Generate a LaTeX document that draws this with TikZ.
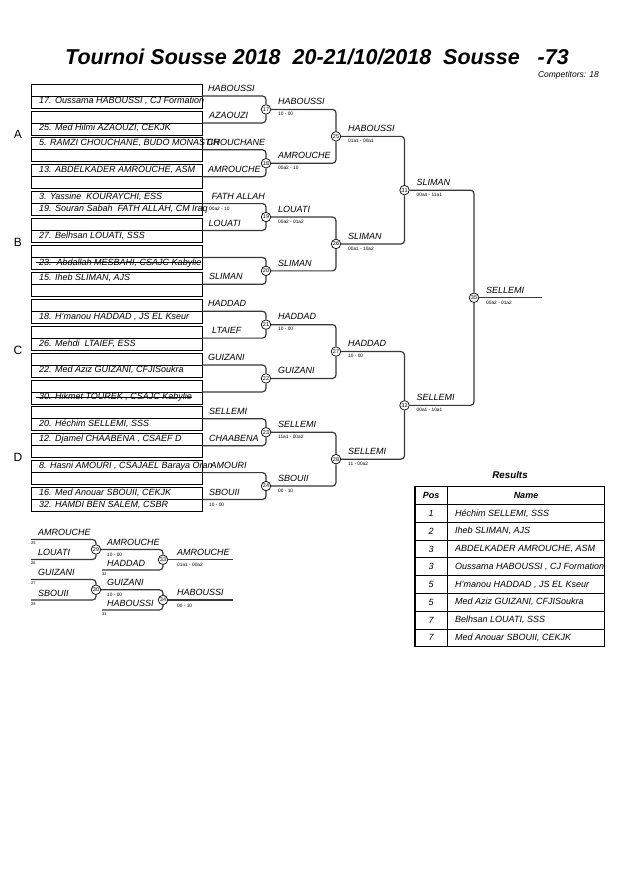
\documentclass[tikz,border=0pt]{standalone}
\usepackage{fontspec}
\setmainfont{Liberation Sans}
\begin{document}
\begin{tikzpicture}[x=1pt,y=-1pt,
  boxline/.style={draw=black, line width=0.7pt},
  entry/.style={font=\fontsize{9}{10}\selectfont\itshape, anchor=west, inner sep=0pt},
  lab/.style={font=\fontsize{9}{10}\selectfont\itshape, anchor=west, inner sep=0pt},
  score/.style={font=\fontsize{4.8}{5}\selectfont, anchor=west, inner sep=0pt},
  tiny/.style={font=\fontsize{4}{4.5}\selectfont, anchor=west, inner sep=0pt},
  circ/.style={circle, draw=black, fill=white, line width=0.7pt, minimum size=9.5pt, inner sep=0pt, font=\fontsize{5.5}{6}\selectfont},
  br/.style={draw=black!78, line width=1.2pt, rounded corners=3.5pt},
  sec/.style={font=\fontsize{12}{14}\selectfont, inner sep=0pt},
  strike/.style={draw=black, line width=0.6pt},
  tabtxt/.style={font=\fontsize{9}{10}\selectfont\itshape, inner sep=0pt},
  tabhead/.style={font=\fontsize{9}{10}\selectfont\bfseries\itshape, inner sep=0pt},
  outer/.style={draw=black, line width=1.4pt},
  inner/.style={draw=black, line width=0.7pt}
]
\useasboundingbox (0,0) rectangle (630,891);
\fill[white] (0,0) rectangle (630,891);

% title
\node[font=\fontsize{21.5}{24}\selectfont\bfseries\itshape, inner sep=0pt] (title) at (317,57)
  {Tournoi Sousse 2018~~20-21/10/2018~~Sousse~~~-73};
\node[font=\fontsize{8.5}{9}\selectfont\itshape, anchor=east, inner sep=0pt] (comp) at (599,75) {Competitors: 18};

% section letters
\node[sec] (secA) at (18,134.5) {A};
\node[sec] (secB) at (18,242) {B};
\node[sec] (secC) at (18,350) {C};
\node[sec] (secD) at (18,457.5) {D};

% boxes
\foreach \k in {0,...,15}{
  \pgfmathsetmacro\t{84+26.9*\k}
  \draw[boxline] (31,\t) rectangle (202,\t+24);
  \draw[boxline] (31,\t+12) -- (202,\t+12);
  \coordinate (m\k) at (202,\t+12);
}

% entries
\foreach \k/\r/\n/\txt in {
  0/17.3/e0/{17. Oussama HABOUSSI , CJ Formation},
  1/17.3/e1/{25. Med Hilmi AZAOUZI, CEKJK},
  2/5.5/e2/{5. RAMZI CHOUCHANE, BUDO MONASTIR},
  3/5.5/e3/{13. ABDELKADER AMROUCHE, ASM},
  4/5.5/e4a/{3. Yassine~~KOURAYCHI, ESS},
  4/17.3/e4b/{19. Souran Sabah~~FATH ALLAH, CM Iraq},
  5/17.3/e5/{27. Belhsan LOUATI, SSS},
  6/17.3/e6/{23.~~Abdallah MESBAHI, CSAJC Kabylie},
  7/5.5/e7/{15. Iheb SLIMAN, AJS},
  8/17.3/e8/{18. H'manou HADDAD , JS EL Kseur},
  9/17.3/e9/{26. Mehdi~~LTAIEF, ESS},
  10/17.3/e10/{22. Med Aziz GUIZANI, CFJISoukra},
  11/17.3/e11/{30. Hikmet TOUREK , CSAJC Kabylie},
  12/17.3/e12/{20. Héchim SELLEMI, SSS},
  13/5.5/e13/{12. Djamel CHAABENA , CSAEF D},
  14/5.5/e14/{8. Hasni AMOURI , CSAJAEL Baraya Oran},
  15/5.5/e15a/{16. Med Anouar SBOUII, CEKJK},
  15/17.3/e15b/{32. HAMDI BEN SALEM, CSBR}}{
  \node[entry] (\n) at (39,84+26.9*\k+\r) {\txt};
}
\draw[strike] ([xshift=-3pt]e6.mid west) -- (e6.mid east);
\draw[strike] ([xshift=-3pt]e11.mid west) -- (e11.mid east);

% first-round winner labels
\foreach \k/\x/\n/\txt in {0/208/w0/HABOUSSI, 1/209/w1/AZAOUZI, 2/207/w2/CHOUCHANE, 3/208/w3/AMROUCHE,
  4/211.5/w4/FATH ALLAH, 5/208.5/w5/LOUATI, 7/209/w7/SLIMAN, 8/208/w8/HADDAD, 9/212/w9/LTAIEF,
  10/208/w10/GUIZANI, 12/209/w12/SELLEMI, 13/209/w13/CHAABENA, 14/210.5/w14/AMOURI, 15/209/w15/SBOUII}{
  \node[lab] (\n) at (\x,88.5+26.9*\k) {\txt};
}
\node[score] (sc4) at (209,96+26.9*4+5.3) {00a2 - 10};
\node[score] (sc15) at (209,96+26.9*15+5.3) {10 - 00};

% circles
\foreach \c/\x/\y in {17/266/109.45, 18/266/163.25, 19/266/217.05, 20/266/270.85,
  21/266/324.65, 22/266/378.45, 23/266/432.25, 24/266/486.05,
  25/336/136.35, 26/336/243.95, 27/336/351.55, 28/336/459.15,
  31/404.5/190.15, 32/404.5/405.35, 35/474/297.75}{
  \node[circ] (c\c) at (\x,\y) {\c};
}
\coordinate (fin) at (542,297.75);

% brackets
\foreach \a/\b/\c in {0/1/17,2/3/18,4/5/19,6/7/20,8/9/21,10/11/22,12/13/23,14/15/24}{
  \draw[br] (m\a) -- (m\a -| c\c) -- (c\c.north);
  \draw[br] (m\b) -- (m\b -| c\c) -- (c\c.south);
}
\foreach \a/\b/\c in {17/18/25,19/20/26,21/22/27,23/24/28,25/26/31,27/28/32,31/32/35}{
  \draw[br] (c\a.east) -- (c\a.east -| c\c) -- (c\c.north);
  \draw[br] (c\b.east) -- (c\b.east -| c\c) -- (c\c.south);
}
\draw[br] (c35.east) -- (fin);

% winner labels and scores
\foreach \c/\n/\s in {17/HABOUSSI/{10 - 00}, 18/AMROUCHE/{00a2 - 10}, 19/LOUATI/{00a2 - 01a2},
  20/SLIMAN/{}, 21/HADDAD/{10 - 00}, 22/GUIZANI/{}, 23/SELLEMI/{11a1 - 00a2}, 24/SBOUII/{00 - 10},
  25/HABOUSSI/{01a1 - 00a1}, 26/SLIMAN/{00a1 - 10a2}, 27/HADDAD/{10 - 00}, 28/SELLEMI/{11 - 00a2},
  31/SLIMAN/{00a4 - 11a1}, 32/SELLEMI/{00a1 - 10a1}, 35/SELLEMI/{00a2 - 01a2}}{
  \node[lab] (n\c) at ([xshift=12pt,yshift=7.8pt]c\c.center) {\n};
  \node[score] (s\c) at ([xshift=12pt,yshift=-4.6pt]c\c.center) {\s};
}

% repechage
\coordinate (r1) at (31,539.5);
\coordinate (r2) at (31,559.5);
\coordinate (r3) at (31,579.5);
\coordinate (r4) at (31,600);
\coordinate (r5) at (102,570);
\coordinate (r6) at (102,610);
\node[circ] (c29) at (96,549.5) {29};
\node[circ] (c30) at (96,589.75) {30};
\node[circ] (c33) at (163,559.75) {33};
\node[circ] (c34) at (163,600) {34};
\coordinate (r7) at (233,559.75);
\coordinate (r8) at (233,600);
\draw[br] (r1) -- (r1 -| c29) -- (c29.north);
\draw[br] (r2) -- (r2 -| c29) -- (c29.south);
\draw[br] (r3) -- (r3 -| c30) -- (c30.north);
\draw[br] (r4) -- (r4 -| c30) -- (c30.south);
\draw[br] (c29.east) -- (c29.east -| c33) -- (c33.north);
\draw[br] (r5) -- (r5 -| c33) -- (c33.south);
\draw[br] (c30.east) -- (c30.east -| c34) -- (c34.north);
\draw[br] (r6) -- (r6 -| c34) -- (c34.south);
\draw[br] (c33.east) -- (r7);
\draw[br] (c34.east) -- (r8);

\node[lab] (ra1) at (38,532.5) {AMROUCHE};
\node[tiny] (rn1) at (31,543.5) {25};
\node[lab] (ra2) at (38,552.5) {LOUATI};
\node[tiny] (rn2) at (31,563.5) {26};
\node[lab] (ra3) at (38,572.5) {GUIZANI};
\node[tiny] (rn3) at (31,583.5) {27};
\node[lab] (ra4) at (38,593) {SBOUII};
\node[tiny] (rn4) at (31,604) {28};
\node[lab] (rb1) at (107,542.5) {AMROUCHE};
\node[score] (rs1) at (107,555) {10 - 00};
\node[lab] (rb2) at (107,563) {HADDAD};
\node[tiny] (rn5) at (102,574) {32};
\node[lab] (rb3) at (107,582.7) {GUIZANI};
\node[score] (rs2) at (107,595) {10 - 00};
\node[lab] (rb4) at (107,603) {HABOUSSI};
\node[tiny] (rn6) at (102,614) {31};
\node[lab] (rc1) at (177,552.5) {AMROUCHE};
\node[score] (rs3) at (177,565) {01a1 - 00a2};
\node[lab] (rc2) at (177,592.7) {HABOUSSI};
\node[score] (rs4) at (177,605.5) {00 - 10};

% results table
\node[tabhead, font=\fontsize{9.8}{11}\selectfont\bfseries\itshape] (restitle) at (510,475) {Results};
\foreach \i in {1,...,8}{
  \draw[inner] (415,486.7+17.78*\i) -- (604.5,486.7+17.78*\i);
}
\draw[inner] (447.5,486.7) -- (447.5,646.7);
\draw[outer] (415,486.7) rectangle (604.5,646.7);
\node[tabhead] (hpos) at (431.2,495.6) {Pos};
\node[tabhead] (hname) at (526,495.6) {Name};
\foreach \i/\p/\txt in {1/1/{Héchim SELLEMI, SSS}, 2/2/{Iheb SLIMAN, AJS}, 3/3/{ABDELKADER AMROUCHE, ASM},
  4/3/{Oussama HABOUSSI , CJ Formation}, 5/5/{H'manou HADDAD , JS EL Kseur}, 6/5/{Med Aziz GUIZANI, CFJISoukra},
  7/7/{Belhsan LOUATI, SSS}, 8/7/{Med Anouar SBOUII, CEKJK}}{
  \node[tabtxt] (p\i) at (431.2,495.6+17.78*\i) {\p};
  \node[tabtxt, anchor=west] (t\i) at (455,495.6+17.78*\i) {\txt};
}
\end{tikzpicture}
\end{document}
